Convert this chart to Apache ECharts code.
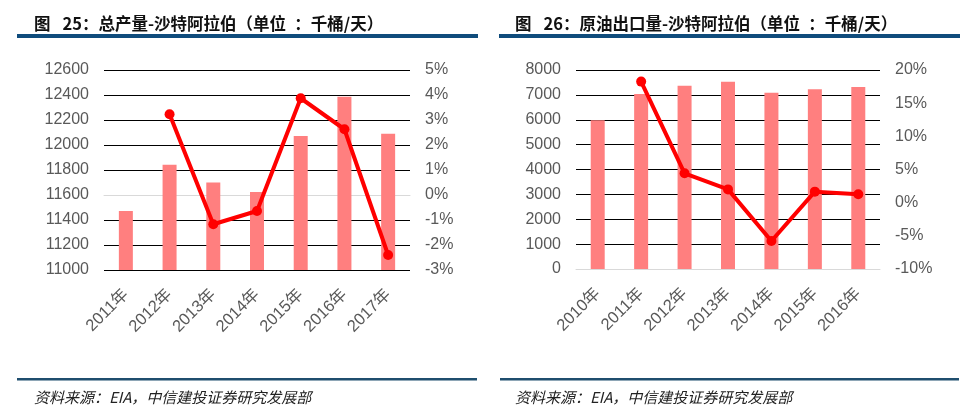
<!DOCTYPE html>
<html><head><meta charset="utf-8">
<script src="https://cdn.jsdelivr.net/npm/echarts@6/dist/echarts.min.js"></script>
<style>html,body{margin:0;padding:0;background:#fff}#c{width:969px;height:416px}</style>
</head><body><div id="c"></div>
<script>
// Chart 25: total production, Saudi Arabia (kb/d)
const prodYears = ['2011年','2012年','2013年','2014年','2015年','2016年','2017年'];
const prodValues = [11472, 11842, 11700, 11624, 12072, 12387, 12090];
const prodGrowth = [null, 3.23, -1.17, -0.64, 3.87, 2.63, -2.40];
// Chart 26: crude exports, Saudi Arabia (kb/d)
const expYears = ['2010年','2011年','2012年','2013年','2014年','2015年','2016年'];
const expValues = [5978, 7035, 7369, 7530, 7087, 7224, 7316];
const expGrowth = [null, 18.25, 4.43, 2.0, -5.78, 1.66, 1.27];

const title1 = '图\u2002 25：总产量-沙特阿拉伯（单位\u2002：千桶/天）';
const title2 = '图\u2002 26：原油出口量-沙特阿拉伯（单位\u2002：千桶/天）';
const source = '资料来源：EIA，中信建投证券研究发展部';

const FONT = 'Liberation Sans, Arial, "Noto Sans CJK SC", sans-serif';
const CJK = '"Noto Sans CJK SC", sans-serif';
const gray = '#595959';
const barColor = '#ff7f7f';
const lineColor = '#ff0000';
const blue = '#0f4c7c';

function xAx(grid, data) {
  return {type:'category', gridIndex:grid, data:data,
    axisLine:{lineStyle:{color:'#d9d9d9', width:1}}, axisTick:{show:false},
    axisLabel:{rotate:45, color:gray, fontSize:16.5, fontFamily:FONT, margin:22, interval:0}};
}
function yAx(grid, min, max, interval, pos, pct, split) {
  return {type:'value', gridIndex:grid, min:min, max:max, interval:interval, position:pos,
    axisLine:{show:false}, axisTick:{show:false},
    splitLine:{show:split, lineStyle:{color:'#000', width:1}},
    axisLabel:{color:gray, fontSize:16, fontFamily:FONT, margin:15,
      formatter: pct ? (v => v + '%') : (v => String(v))}};
}

const chart = echarts.init(document.getElementById('c'), null, {renderer:'canvas'});
chart.setOption({
  animation:false,
  backgroundColor:'#fff',
  title:[
    {text:title1, left:29, top:10, textStyle:{fontSize:16.5, fontWeight:'bold', color:'#111', fontFamily:CJK}},
    {text:title2, left:510, top:10, textStyle:{fontSize:16.5, fontWeight:'bold', color:'#111', fontFamily:CJK}},
    {text:source, left:29, top:385, textStyle:{fontSize:15, fontStyle:'italic', fontWeight:'normal', color:'#222', fontFamily:CJK}},
    {text:source, left:510, top:385, textStyle:{fontSize:15, fontStyle:'italic', fontWeight:'normal', color:'#222', fontFamily:CJK}}
  ],
  graphic:[
    {type:'rect', shape:{x:17, y:34, width:461, height:4}, style:{fill:blue}},
    {type:'rect', shape:{x:499, y:34, width:461, height:4}, style:{fill:blue}},
    {type:'rect', shape:{x:17, y:378, width:460, height:2.5}, style:{fill:'#1f4e6e'}},
    {type:'rect', shape:{x:500, y:378, width:459, height:2.5}, style:{fill:'#1f4e6e'}}
  ],
  grid:[
    {left:104, width:306, top:70, height:200},
    {left:576, width:304, top:70, height:199}
  ],
  xAxis:[xAx(0, prodYears), xAx(1, expYears)],
  yAxis:[
    yAx(0, 11000, 12600, 200, 'left', false, true),
    yAx(0, -3, 5, 1, 'right', true, false),
    yAx(1, 0, 8000, 1000, 'left', false, true),
    yAx(1, -10, 20, 5, 'right', true, false)
  ],
  series:[
    {type:'bar', xAxisIndex:0, yAxisIndex:0, data:prodValues, barWidth:14, itemStyle:{color:barColor}},
    {type:'line', xAxisIndex:0, yAxisIndex:1, data:prodGrowth, symbol:'circle', symbolSize:10,
      lineStyle:{color:lineColor, width:4}, itemStyle:{color:lineColor}},
    {type:'bar', xAxisIndex:1, yAxisIndex:2, data:expValues, barWidth:14, itemStyle:{color:barColor}},
    {type:'line', xAxisIndex:1, yAxisIndex:3, data:expGrowth, symbol:'circle', symbolSize:10,
      lineStyle:{color:lineColor, width:4}, itemStyle:{color:lineColor}}
  ]
});
</script></body></html>
